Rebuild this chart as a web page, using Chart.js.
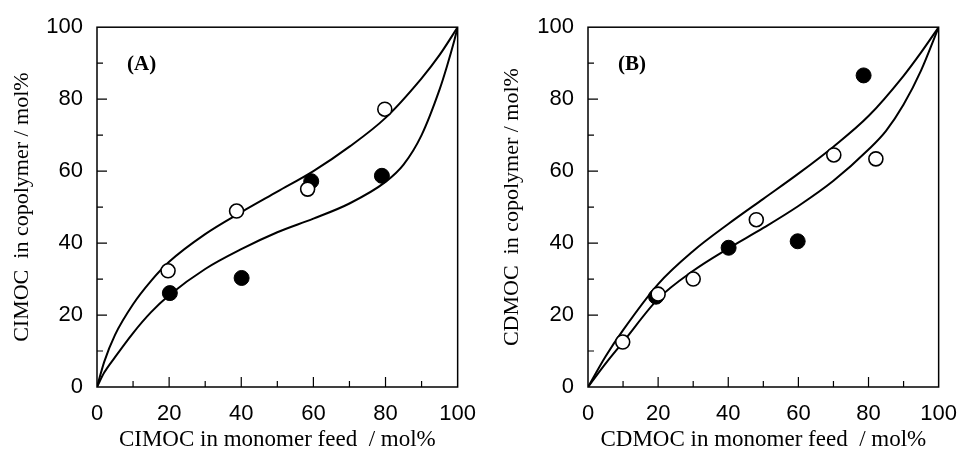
<!DOCTYPE html>
<html lang="en">
<head>
    <meta charset="UTF-8">
    <title>Copolymer composition curves</title>
    <style>
        body { margin: 0; background: #fff; }
        .panel { position: absolute; top: 0; }
        #panelA { left: 0; }
        #panelB { left: 490px; }
    </style>
</head>
<body>
<script src="https://cdn.jsdelivr.net/npm/chart.js"></script>
<div class="panel" id="panelA"><canvas id="chartA" width="490" height="461"></canvas></div>
<div class="panel" id="panelB"><canvas id="chartB" width="481" height="461"></canvas></div>
<script>
    // tick values shared by both panels
    const tickValues = [0, 20, 40, 60, 80, 100];

    // panel (A) - CIMOC
    const openA_x = [19.7, 38.7, 58.4, 79.8];
    const openA_y = [32.3, 48.9, 55.0, 77.2];
    const filledA_x = [20.2, 40.1, 59.4, 79.0];
    const filledA_y = [26.1, 30.3, 57.2, 58.7];
    const upperA_x = [0, 2, 5, 10, 15, 20, 30, 40, 50, 60, 70, 80, 90, 95, 100];
    const upperA_y = [0, 7, 14.5, 23, 29.5, 34.8, 42.5, 48.6, 54.3, 60, 66.8, 74.8, 85.8, 92.3, 100];
    const lowerA_x = [0, 2, 5, 10, 15, 20, 30, 40, 50, 60, 70, 80, 85, 90, 95, 97, 99, 100];
    const lowerA_y = [0, 4, 8.3, 15, 20.8, 25.5, 32.8, 38.3, 43, 46.8, 51, 57, 61.8, 70, 82.7, 89, 96, 100];

    // panel (B) - CDMOC
    const openB_x = [9.9, 20.0, 30.0, 48.0, 70.1, 82.1];
    const openB_y = [12.5, 25.8, 30.0, 46.5, 64.5, 63.4];
    const filledB_x = [19.4, 40.1, 59.8, 78.6];
    const filledB_y = [25.1, 38.7, 40.5, 86.6];
    const upperB_x = [0, 5, 10, 20, 30, 40, 50, 60, 70, 80, 90, 95, 100];
    const upperB_y = [0, 8.5, 15.8, 28.6, 37.8, 45.3, 52.3, 59.3, 66.8, 75.3, 86.5, 93, 100];
    const lowerB_x = [0, 5, 10, 20, 30, 40, 50, 60, 70, 80, 85, 90, 95, 100];
    const lowerB_y = [0, 6.5, 12.5, 24.5, 32.3, 38.5, 44.2, 50.3, 57.3, 66, 71.2, 78.5, 88, 100];

    const pairs = (xs, ys) => xs.map((x, i) => ({ x: x, y: ys[i] }));

    // box around plot + inward ticks on bottom and left, panel letter
    const framePlugin = {
        id: 'frame',
        afterDraw(chart, args, opts) {
            const ctx = chart.ctx;
            const a = chart.chartArea;
            const xs = chart.scales.x, ys = chart.scales.y;
            ctx.save();
            ctx.strokeStyle = '#000';
            ctx.lineWidth = 1.5;
            ctx.strokeRect(a.left, a.top, a.right - a.left, a.bottom - a.top);
            ctx.lineWidth = 1.2;
            for (let v = 10; v < 100; v += 10) {
                const len = v % 20 === 0 ? 10 : 6;
                const px = xs.getPixelForValue(v);
                const py = ys.getPixelForValue(v);
                ctx.beginPath();
                ctx.moveTo(px, a.bottom);
                ctx.lineTo(px, a.bottom - len);
                ctx.moveTo(a.left, py);
                ctx.lineTo(a.left + len, py);
                ctx.stroke();
            }
            ctx.fillStyle = '#000';
            ctx.font = 'bold 21px "Liberation Serif"';
            ctx.textBaseline = 'middle';
            ctx.fillText(opts.label, a.left + 30, a.top + 37);
            ctx.restore();
        }
    };

    function makeChart(id, letter, name, openPts, filledPts, upperPts, lowerPts, yWidth, padRight) {
        const curve = pts => ({
            data: pts,
            showLine: true,
            borderColor: '#000',
            borderWidth: 2,
            pointRadius: 0,
            cubicInterpolationMode: 'monotone',
            fill: false
        });
        return new Chart(document.getElementById(id), {
            type: 'scatter',
            data: {
                datasets: [
                    { data: openPts, pointRadius: 7, pointBackgroundColor: '#fff', pointBorderColor: '#000', pointBorderWidth: 1.6 },
                    { data: filledPts, pointRadius: 7.5, pointBackgroundColor: '#000', pointBorderColor: '#000', pointBorderWidth: 1 },
                    curve(upperPts),
                    curve(lowerPts)
                ]
            },
            options: {
                responsive: false,
                animation: false,
                layout: { padding: { top: 23, right: padRight, left: 0, bottom: 0 } },
                plugins: {
                    legend: { display: false },
                    tooltip: { enabled: false },
                    frame: { label: letter }
                },
                scales: {
                    x: {
                        min: 0, max: 100,
                        afterBuildTicks: s => { s.ticks = tickValues.map(v => ({ value: v })); },
                        afterFit: s => { s.height = 74; },
                        grid: { display: false, drawTicks: false },
                        border: { display: false },
                        ticks: { padding: 14, color: '#000', font: { family: '"Liberation Sans"', size: 22 }, maxRotation: 0 },
                        title: {
                            display: true,
                            text: name + ' in monomer feed  / mol%',
                            color: '#000',
                            font: { family: '"Liberation Serif"', size: 23 },
                            padding: { top: 0, bottom: 7 }
                        }
                    },
                    y: {
                        min: 0, max: 100,
                        afterBuildTicks: s => { s.ticks = tickValues.map(v => ({ value: v })); },
                        afterFit: s => { s.width = yWidth; },
                        grid: { display: false, drawTicks: false },
                        border: { display: false },
                        ticks: { padding: 14, color: '#000', font: { family: '"Liberation Sans"', size: 22 } },
                        title: {
                            display: true,
                            text: name + '  in copolymer / mol%',
                            color: '#000',
                            font: { family: '"Liberation Serif"', size: 22 },
                            padding: { top: 9, bottom: 0 }
                        }
                    }
                }
            },
            plugins: [framePlugin]
        });
    }

    makeChart('chartA', '(A)', 'CIMOC',
        pairs(openA_x, openA_y), pairs(filledA_x, filledA_y),
        pairs(upperA_x, upperA_y), pairs(lowerA_x, lowerA_y), 97, 30);
    makeChart('chartB', '(B)', 'CDMOC',
        pairs(openB_x, openB_y), pairs(filledB_x, filledB_y),
        pairs(upperB_x, upperB_y), pairs(lowerB_x, lowerB_y), 98, 21);
</script>
</body>
</html>
